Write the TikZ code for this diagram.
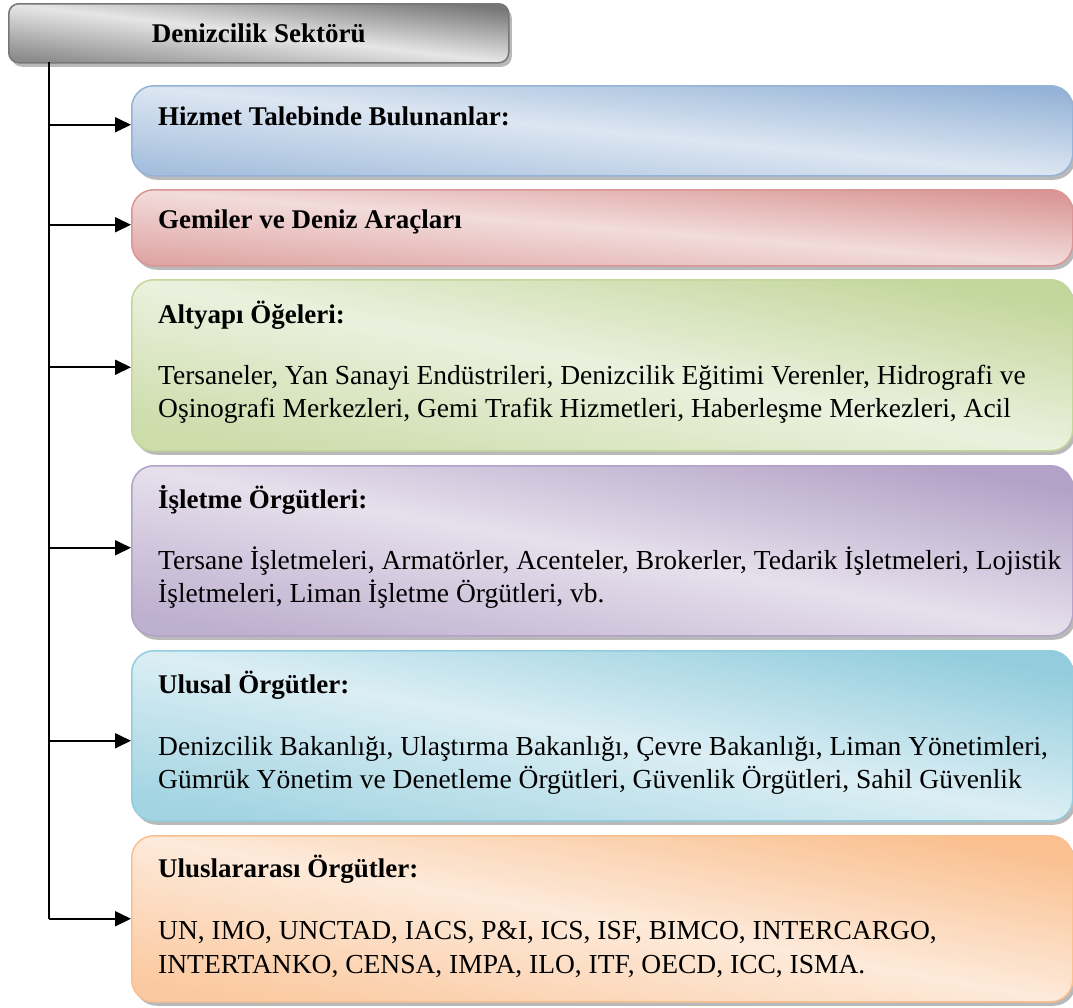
\documentclass[tikz,border=0pt]{standalone}
\usepackage{fontspec}
\setmainfont{Liberation Serif}
\usetikzlibrary{arrows.meta,positioning,shadows}

\definecolor{grayedge}{HTML}{777777}  \definecolor{graylight}{HTML}{E6E6E6}
\definecolor{blueedge}{HTML}{95B3D7}  \definecolor{bluelight}{HTML}{DCE6F2}
\definecolor{rededge}{HTML}{D99694}   \definecolor{redlight}{HTML}{F2DCDB}
\definecolor{greenedge}{HTML}{C3D69B} \definecolor{greenlight}{HTML}{EBF1DE}
\definecolor{purpleedge}{HTML}{B3A2C7}\definecolor{purplelight}{HTML}{E6E0EC}
\definecolor{tealedge}{HTML}{93CDDD}  \definecolor{teallight}{HTML}{DBEEF4}
\definecolor{orangeedge}{HTML}{FAC090}\definecolor{orangelight}{HTML}{FDEADA}

\newcommand*{\boxleft}{131}
\newcommand*{\boxwidth}{941pt}
\newcommand*{\textin}{27pt}

\tikzset{
  shadowed/.style={general shadow={fill=gray!55, shadow xshift=3pt, shadow yshift=-4pt}},
  sectorbox/.style={rectangle, anchor=north west, inner sep=0pt, line width=1.5pt,
    rounded corners=22pt, minimum width=\boxwidth, shadowed,
    draw=#1edge, top color=#1edge, bottom color=#1edge!85!white, middle color=#1light},
  headbox/.style={sectorbox=gray, rounded corners=10pt, minimum width=500pt,
    minimum height=59pt, shading angle=-6.7, font=\fontsize{27}{30}\selectfont\bfseries},
  title/.style={anchor=base west, inner sep=0pt, font=\fontsize{27}{30}\selectfont\bfseries},
  body/.style={anchor=base west, inner sep=0pt, font=\fontsize{27.5}{33}\selectfont},
  branch/.style={line width=1.8pt, -{Triangle[length=16pt,width=15pt]}},
}

\begin{document}
\begin{tikzpicture}[x=1pt,y=-1pt]
	\useasboundingbox (0,0) rectangle (1073,1007);

	\node[headbox] (sector) at (8,3) {Denizcilik Sektörü};

	% boxes
	\node[sectorbox=blue,   minimum height=90pt,  shading angle=-5.5]  (hizmet)  at (\boxleft,85)  {};
	\node[sectorbox=red,    minimum height=76pt,  shading angle=-4.6]  (gemi)    at (\boxleft,189) {};
	\node[sectorbox=green,  minimum height=171pt, shading angle=-10.3] (altyapi) at (\boxleft,279) {};
	\node[sectorbox=purple, minimum height=170pt, shading angle=-10.2] (isletme) at (\boxleft,465) {};
	\node[sectorbox=teal,   minimum height=170pt, shading angle=-10.2] (ulusal)  at (\boxleft,650) {};
	\node[sectorbox=orange, minimum height=166pt, shading angle=-10]   (uluslar) at (\boxleft,835) {};

	% texts
	\node[title] (hizmet-t) at ([xshift=\textin,yshift=-40pt]hizmet.north west) {Hizmet Talebinde Bulunanlar:};
	\node[title] (gemi-t) at ([xshift=\textin,yshift=-39pt]gemi.north west) {Gemiler ve Deniz Araçları};

	\node[title] (altyapi-t) at ([xshift=\textin,yshift=-44pt]altyapi.north west) {Altyapı Öğeleri:};
	\node[body] (altyapi-1) at ([yshift=-61pt]altyapi-t.base west) {Tersaneler, Yan Sanayi Endüstrileri, Denizcilik Eğitimi Verenler, Hidrografi ve};
	\node[body] (altyapi-2) at ([yshift=-33pt]altyapi-1.base west) {Oşinografi Merkezleri, Gemi Trafik Hizmetleri, Haberleşme Merkezleri, Acil};

	\node[title] (isletme-t) at ([xshift=\textin,yshift=-43pt]isletme.north west) {İşletme Örgütleri:};
	\node[body] (isletme-1) at ([yshift=-61pt]isletme-t.base west) {Tersane İşletmeleri, Armatörler, Acenteler, Brokerler, Tedarik İşletmeleri, Lojistik};
	\node[body] (isletme-2) at ([yshift=-33pt]isletme-1.base west) {İşletmeleri, Liman İşletme Örgütleri, vb.};

	\node[title] (ulusal-t) at ([xshift=\textin,yshift=-43pt]ulusal.north west) {Ulusal Örgütler:};
	\node[body] (ulusal-1) at ([yshift=-62pt]ulusal-t.base west) {Denizcilik Bakanlığı, Ulaştırma Bakanlığı, Çevre Bakanlığı, Liman Yönetimleri,};
	\node[body] (ulusal-2) at ([yshift=-33pt]ulusal-1.base west) {Gümrük Yönetim ve Denetleme Örgütleri, Güvenlik Örgütleri, Sahil Güvenlik};

	\node[title] (uluslar-t) at ([xshift=\textin,yshift=-42pt]uluslar.north west) {Uluslararası Örgütler:};
	\node[body] (uluslar-1) at ([yshift=-62pt]uluslar-t.base west) {UN, IMO, UNCTAD, IACS, P\&I, ICS, ISF, BIMCO, INTERCARGO,};
	\node[body] (uluslar-2) at ([yshift=-34pt]uluslar-1.base west) {INTERTANKO, CENSA, IMPA, ILO, ITF, OECD, ICC, ISMA.};

	% trunk and branches
	\coordinate (trunk) at (49,62);
	\draw[line width=1.8pt] (trunk) -- (trunk |- uluslar.west);
	\foreach \b/\dy in {hizmet/6,gemi/3,altyapi/-2,isletme/3,ulusal/-5,uluslar/0} {
		\coordinate (\b-in) at ([yshift=\dy pt]\b.west);
		\draw[branch] (trunk |- \b-in) -- (\b-in);
	}

\end{tikzpicture}
\end{document}
